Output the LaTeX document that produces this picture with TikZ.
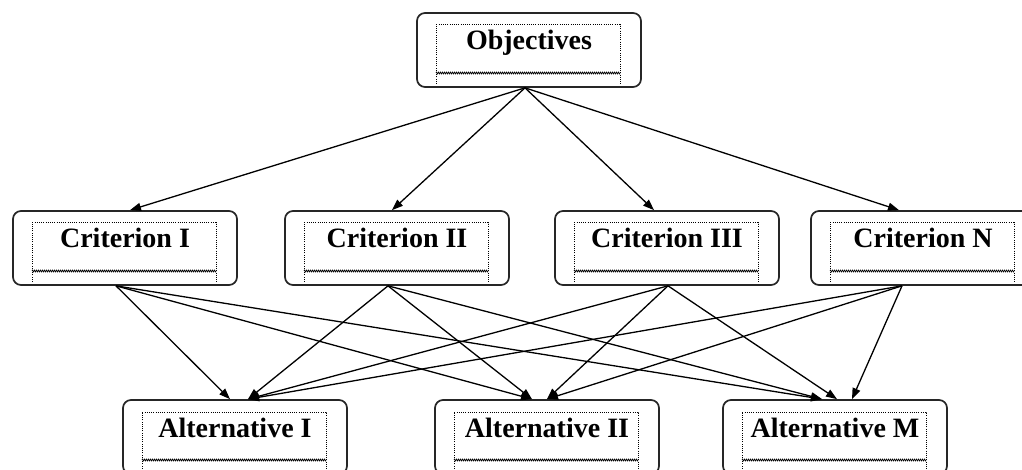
\documentclass[tikz,border=0pt]{standalone}
\usepackage{fontspec}
\setmainfont{Liberation Serif}
\usetikzlibrary{arrows.meta,decorations.pathmorphing}

\tikzset{
  outerbox/.style={draw=black!85, line width=1.7pt, rounded corners=8pt,
    minimum width=224pt, minimum height=74pt, inner sep=0pt},
  framedots/.style={draw=black, line width=1pt, dash pattern=on 1pt off 1.2pt},
  framewave/.style={draw=black, line width=0.7pt,
    decorate, decoration={zigzag, amplitude=0.9pt, segment length=2pt}},
  boxlabel/.style={anchor=base, inner sep=0pt,
    font=\fontsize{28}{31}\selectfont\bfseries},
  link/.style={draw=black, line width=1.3pt,
    -{Triangle[length=11pt,width=8pt]}}
}

% A rounded box with a dotted text frame inside it.
% #1 name, #2 centre x, #3 top y, #4 label
\newcommand{\framedbox}[4]{%
  \node[outerbox] (#1) at (#2,#3+37) {};
  \draw[framedots] (#2-93,#3+71) -- (#2-93,#3+12) -- (#2+91,#3+12) -- (#2+91,#3+71);
  \path[framewave] (#2-93,#3+60) -- (#2+91,#3+60);
  \node[boxlabel] (#1-label) at (#2,#3+37) {#4};
}

\begin{document}
\begin{tikzpicture}[x=1pt,y=-1pt]
  \useasboundingbox (0,0) rectangle (1022,470);
  \clip (0,0) rectangle (1022,470);

  % goal
  \framedbox{obj}{529}{13}{Objectives}

  % criteria
  \framedbox{c1}{125}{211}{Criterion I}
  \framedbox{c2}{397}{211}{Criterion II}
  \framedbox{c3}{667}{211}{Criterion III}
  \framedbox{cn}{923}{211}{Criterion N}

  % alternatives
  \framedbox{a1}{235}{400}{Alternative I}
  \framedbox{a2}{547}{400}{Alternative II}
  \framedbox{am}{835}{400}{Alternative M}

  % goal to criteria
  \coordinate (o) at ([xshift=-4pt]obj.south);
  \draw[link] (o) -- ([xshift=5pt]c1.north);
  \draw[link] (o) -- ([xshift=-5pt]c2.north);
  \draw[link] (o) -- ([xshift=-13pt]c3.north);
  \draw[link] (o) -- ([xshift=-24pt]cn.north);

  % criteria to alternatives
  \coordinate (s1) at ([xshift=-9pt]c1.south);
  \coordinate (s2) at ([xshift=-9pt]c2.south);
  \coordinate (s3) at ([xshift=1pt]c3.south);
  \coordinate (sn) at ([xshift=-21pt]cn.south);

  \draw[link] (s1) -- ([xshift=-5pt]a1.north);
  \draw[link] (s2) -- ([xshift=13pt]a1.north);
  \draw[link] (s3) -- ([xshift=13pt]a1.north);
  \draw[link] (sn) -- ([xshift=13pt]a1.north);

  \draw[link] (s1) -- ([xshift=-15pt]a2.north);
  \draw[link] (s2) -- ([xshift=-15pt]a2.north);
  \draw[link] (s3) -- (a2.north);
  \draw[link] (sn) -- (a2.north);

  \draw[link] (s1) -- ([xshift=-13pt]am.north);
  \draw[link] (s2) -- ([xshift=-13pt]am.north);
  \draw[link] (s3) -- ([xshift=2pt]am.north);
  \draw[link] (sn) -- ([xshift=17pt]am.north);
\end{tikzpicture}
\end{document}
